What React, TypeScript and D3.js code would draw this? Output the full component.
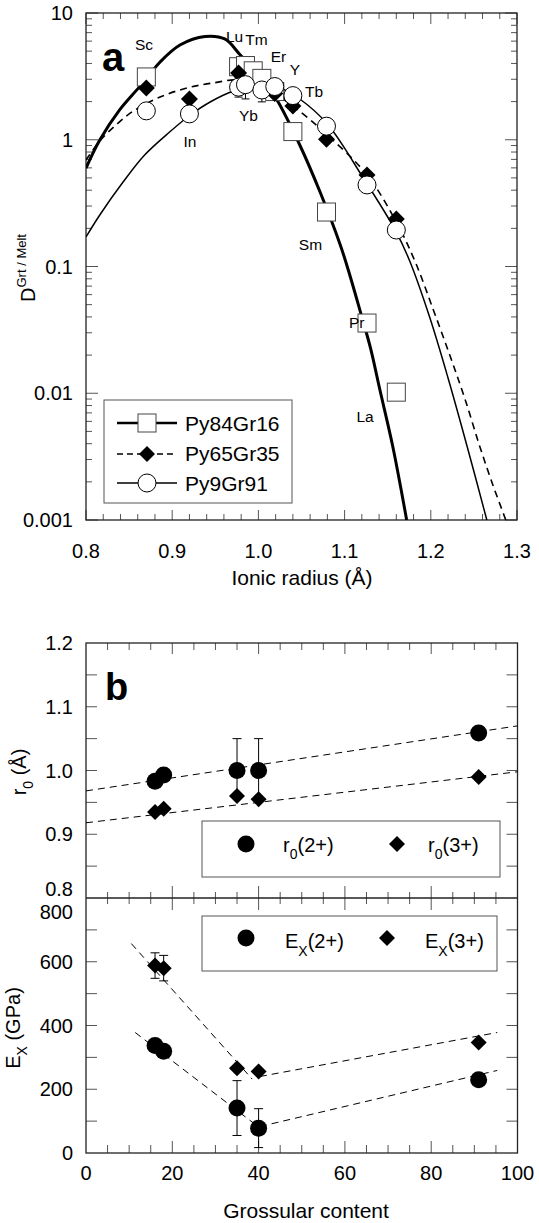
import React from "react";
import * as d3 from "d3";

// ---------------- Panel a data ----------------
const radiusTicks = [0.8, 0.9, 1.0, 1.1, 1.2, 1.3];
const radiusTickLabels = ["0.8", "0.9", "1.0", "1.1", "1.2", "1.3"];
const dTicks = [0.001, 0.01, 0.1, 1, 10];
const dTickLabels = ["0.001", "0.01", "0.1", "1", "10"];

const elements = ["Sc", "In", "Lu", "Yb", "Tm", "Er", "Y", "Tb", "Sm", "Pr", "La"];
const ionicRadius = [0.87, 0.92, 0.977, 0.985, 0.994, 1.004, 1.019, 1.04, 1.079, 1.126, 1.16];
const dPy84Gr16 = [3.13, null, 3.77, 3.85, 3.5, 3.05, 2.4, 1.16, 0.269, 0.0358, 0.0102];
const dPy65Gr35 = [2.56, 2.1, 3.36, null, null, null, 2.32, 1.85, 1.01, 0.527, 0.237];
const dPy9Gr91 = [1.69, 1.6, 2.6, 2.72, null, 2.47, 2.63, 2.23, 1.28, 0.44, 0.194];
const dPy9Gr91Low = [null, null, 2.17, 2.1, null, 1.99, null, null, null, null, null];

const fitPy84Gr16: [number, number][] = [
  [0.8, 0.598], [0.816, 0.995], [0.839, 1.72], [0.863, 2.66], [0.886, 4.11], [0.909, 5.59],
  [0.938, 6.53], [0.961, 6.24], [0.979, 4.67], [1.002, 3.19], [1.0216, 2.06], [1.048, 0.909],
  [1.072, 0.38], [1.095, 0.148], [1.106, 0.0857], [1.118, 0.0446], [1.13, 0.0228],
  [1.141, 0.0106], [1.156, 0.00377], [1.172, 0.001],
];
const fitPy65Gr35: [number, number][] = [
  [0.8, 0.692], [0.816, 0.977], [0.836, 1.331], [0.855, 1.686], [0.886, 2.174], [0.917, 2.56],
  [0.947, 2.804], [0.979, 2.96], [1.008, 2.56], [1.04, 1.846], [1.08, 1.09], [1.126, 0.527],
  [1.16, 0.2245], [1.182, 0.1085], [1.203, 0.0454], [1.222, 0.02], [1.24, 0.00885],
  [1.257, 0.00377], [1.272, 0.00189], [1.287, 0.001],
];
const fitPy9Gr91: [number, number][] = [
  [0.8, 0.171], [0.816, 0.255], [0.843, 0.464], [0.868, 0.758], [0.897, 1.151], [0.921, 1.568],
  [0.944, 1.986], [0.971, 2.425], [1.0, 2.704], [1.025, 2.561], [1.048, 2.097], [1.08, 1.331],
  [1.121, 0.508], [1.16, 0.187], [1.176, 0.1085], [1.199, 0.0392], [1.22, 0.0132],
  [1.242, 0.00384], [1.265, 0.001],
];

const labelText = ["Sc", "Lu", "Tm", "Er", "Y", "Tb", "Yb", "In", "Sm", "Pr", "La"];
const labelRadius = [0.8673, 0.9723, 0.9978, 1.0233, 1.0425, 1.0645, 0.9885, 0.9206, 1.0604, 1.1141, 1.1237];
const labelD = [5.1, 5.9, 5.6, 4.1, 3.24, 2.17, 1.406, 0.877, 0.135, 0.0327, 0.00593];

const seriesNames = ["Py84Gr16", "Py65Gr35", "Py9Gr91"];

// ---------------- Panel b data ----------------
const grossTicks = [0, 20, 40, 60, 80, 100];
const r0Ticks = [1.2, 1.1, 1.0, 0.9];
const exTicks = [0, 200, 400, 600];
const grossular = [16, 18, 35, 40, 91];
const r0TwoPlus = [0.983, 0.993, 1.0, 1.0, 1.059];
const r0TwoPlusErr = [0, 0, 0.05, 0.05, 0];
const r0ThreePlus = [0.935, 0.94, 0.96, 0.955, 0.99];
const exTwoPlus = [337, 319, 141, 78, 230];
const exTwoPlusErr = [0, 0, 86, 61, 0];
const exThreePlus = [588, 580, 266, 256, 347];
const exThreePlusErr = [40, 40, 0, 0, 0];

const r0FitTwo: [number, number][] = [[0, 0.968], [100, 1.07]];
const r0FitThree: [number, number][] = [[0, 0.918], [100, 0.998]];
const exFits: [number, number][][] = [
  [[10.5, 657], [38.5, 232]],
  [[40.3, 240], [95.3, 378]],
  [[11.4, 378], [38.7, 95]],
  [[40.3, 83], [95.3, 259]],
];

const FONT = "'Liberation Sans', Arial, Helvetica, sans-serif";
const TICK = "#555";

const diamond = (x: number, y: number, h: number) =>
  `M${x},${y - h}L${x + h},${y}L${x},${y + h}L${x - h},${y}Z`;

export default function App() {
  // scales panel a
  const xA = d3.scaleLinear().domain([0.8, 1.3]).range([86, 517]);
  const yA = d3.scaleLog().domain([0.001, 10]).range([520, 13]);
  // scales panel b
  const xB = d3.scaleLinear().domain([0, 100]).range([86, 517.5]);
  const yR = d3.scaleLinear().domain([0.8, 1.2]).range([898, 643]);
  const yE = d3.scaleLinear().domain([0, 800]).range([1153, 898]);

  const lineA = d3
    .line<[number, number]>()
    .x((d) => xA(d[0]))
    .y((d) => yA(d[1]))
    .curve(d3.curveCatmullRom.alpha(0.5));

  // ticks panel a
  const xMinorA = d3.range(0, 26).map((i) => ({ v: 0.8 + i * 0.02, major: i % 5 === 0 }));
  const yMinorA: { v: number; major: boolean }[] = [];
  for (let e = -3; e <= 0; e++) for (let m = 1; m <= 9; m++) yMinorA.push({ v: m * Math.pow(10, e), major: m === 1 });
  yMinorA.push({ v: 10, major: true });

  const xMinorB = d3.range(1, 20).map((i) => ({ v: i * 5, major: i % 4 === 0 }));
  const r0Minor = d3.range(1, 8).map((i) => 0.8 + i * 0.05);
  const exMinor = d3.range(1, 8).map((i) => i * 100);

  const idx = d3.range(elements.length);

  return (
    <svg
      width={539}
      height={1223}
      style={{ position: "absolute", left: 0, top: 0, background: "#fff" }}
      fontFamily={FONT}
    >
      <defs>
        <clipPath id="clipA">
          <rect x={86} y={13} width={431} height={507} />
        </clipPath>
      </defs>
      <rect x={0} y={0} width={539} height={1223} fill="#fff" />

      {/* ===================== Panel a ===================== */}
      <g>
        {/* ticks */}
        {xMinorA.map((t, i) => (
          <g key={"xa" + i} stroke={TICK} strokeWidth={1}>
            <line x1={xA(t.v)} x2={xA(t.v)} y1={520} y2={520 - (t.major ? 10 : 6)} />
            <line x1={xA(t.v)} x2={xA(t.v)} y1={13} y2={13 + (t.major ? 11 : 6)} />
          </g>
        ))}
        {yMinorA.map((t, i) => (
          <g key={"ya" + i} stroke={TICK} strokeWidth={1}>
            <line x1={86} x2={86 + (t.major ? 12 : 6)} y1={yA(t.v)} y2={yA(t.v)} />
            <line x1={517} x2={517 - (t.major ? 12 : 6)} y1={yA(t.v)} y2={yA(t.v)} />
          </g>
        ))}
        <rect x={86} y={13} width={431} height={507} fill="none" stroke="#222" strokeWidth={1.3} />

        {/* tick labels */}
        {dTicks.map((v, i) => (
          <text key={"yl" + i} x={73} y={yA(v)} dy="0.36em" textAnchor="end" fontSize={20}>
            {dTickLabels[i]}
          </text>
        ))}
        {radiusTicks.map((v, i) => (
          <text key={"xl" + i} x={xA(v)} y={558} textAnchor="middle" fontSize={20}>
            {radiusTickLabels[i]}
          </text>
        ))}
        <text x={302} y={585} textAnchor="middle" fontSize={21}>
          Ionic radius (Å)
        </text>
        <text transform="translate(35,268) rotate(-90)" textAnchor="middle" fontSize={20}>
          D<tspan fontSize={13} dy={-9}>Grt / Melt</tspan>
        </text>
        <text x={102} y={71} fontSize={40} fontWeight="bold">
          a
        </text>

        {/* fit curves */}
        <g clipPath="url(#clipA)" fill="none">
          <path d={lineA(fitPy84Gr16) || ""} stroke="#000" strokeWidth={3} />
          <path d={lineA(fitPy65Gr35) || ""} stroke="#000" strokeWidth={1.6} strokeDasharray="7,5" />
          <path d={lineA(fitPy9Gr91) || ""} stroke="#000" strokeWidth={1.5} />
        </g>

        {/* error bars */}
        {idx.map((i) => {
          const lo = dPy9Gr91Low[i];
          const c = dPy9Gr91[i];
          if (lo == null || c == null) return null;
          const hi = (c * c) / lo;
          const x = xA(ionicRadius[i]);
          return (
            <g key={"eb" + i} stroke="#000" strokeWidth={1}>
              <line x1={x} x2={x} y1={yA(lo)} y2={yA(hi)} />
              <line x1={x - 4} x2={x + 4} y1={yA(lo)} y2={yA(lo)} />
              <line x1={x - 4} x2={x + 4} y1={yA(hi)} y2={yA(hi)} />
            </g>
          );
        })}

        {/* markers */}
        {idx.map((i) =>
          dPy84Gr16[i] == null ? null : (
            <rect
              key={"sq" + i}
              x={xA(ionicRadius[i]) - 9}
              y={yA(dPy84Gr16[i] as number) - 9}
              width={18}
              height={18}
              fill="#fff"
              stroke="#444"
              strokeWidth={1}
            />
          )
        )}
        {idx.map((i) =>
          dPy65Gr35[i] == null ? null : (
            <path key={"dm" + i} d={diamond(xA(ionicRadius[i]), yA(dPy65Gr35[i] as number), 8.5)} fill="#000" />
          )
        )}
        {idx.map((i) =>
          dPy9Gr91[i] == null ? null : (
            <circle
              key={"ci" + i}
              cx={xA(ionicRadius[i])}
              cy={yA(dPy9Gr91[i] as number)}
              r={9}
              fill="#fff"
              stroke="#000"
              strokeWidth={1}
            />
          )
        )}

        {/* point labels */}
        {labelText.map((t, i) => (
          <text key={"pl" + i} x={xA(labelRadius[i])} y={yA(labelD[i])} textAnchor="middle" fontSize={15.5}>
            {t}
          </text>
        ))}

        {/* legend a */}
        <rect x={104} y={400} width={188} height={103} fill="#fff" stroke="#555" strokeWidth={1} />
        <line x1={117} x2={177} y1={423} y2={423} stroke="#000" strokeWidth={2.5} />
        <rect x={138} y={414} width={18} height={18} fill="#fff" stroke="#444" strokeWidth={1} />
        <line x1={117} x2={177} y1={454} y2={454} stroke="#000" strokeWidth={1.3} strokeDasharray="6,4" />
        <path d={diamond(147, 454, 8)} fill="#000" />
        <line x1={117} x2={177} y1={483} y2={483} stroke="#000" strokeWidth={1.3} />
        <circle cx={147} cy={483} r={9} fill="#fff" stroke="#000" strokeWidth={1} />
        {seriesNames.map((s, i) => (
          <text key={"lg" + i} x={185} y={431 + i * 30} fontSize={21}>
            {s}
          </text>
        ))}
      </g>

      {/* ===================== Panel b ===================== */}
      <g>
        {/* x ticks */}
        {xMinorB.map((t, i) => {
          const x = xB(t.v);
          return (
            <g key={"xb" + i} stroke={TICK} strokeWidth={1}>
              <line x1={x} x2={x} y1={643} y2={643 + (t.major ? 11 : 7)} />
              <line x1={x} x2={x} y1={898 - (t.major ? 12 : 6)} y2={898 + (t.major ? 12 : 6)} />
              <line x1={x} x2={x} y1={1153} y2={1153 - (t.major ? 12 : 8)} />
            </g>
          );
        })}
        {r0Minor.map((v, i) => (
          <g key={"rt" + i} stroke={TICK} strokeWidth={1}>
            <line x1={86} x2={97} y1={yR(v)} y2={yR(v)} />
            <line x1={517.5} x2={506.5} y1={yR(v)} y2={yR(v)} />
          </g>
        ))}
        {exMinor.map((v, i) => (
          <g key={"et" + i} stroke={TICK} strokeWidth={1}>
            <line x1={86} x2={97} y1={yE(v)} y2={yE(v)} />
            <line x1={517.5} x2={506.5} y1={yE(v)} y2={yE(v)} />
          </g>
        ))}
        <rect x={86} y={643} width={431.5} height={510} fill="none" stroke="#222" strokeWidth={1.3} />
        <line x1={86} x2={517.5} y1={898} y2={898} stroke="#222" strokeWidth={1.3} />

        {/* labels */}
        {r0Ticks.map((v, i) => (
          <text key={"rl" + i} x={73} y={yR(v)} dy="0.36em" textAnchor="end" fontSize={20}>
            {v.toFixed(1)}
          </text>
        ))}
        <text x={73} y={889} dy="0.36em" textAnchor="end" fontSize={20}>
          0.8
        </text>
        {exTicks.map((v, i) => (
          <text key={"el" + i} x={73} y={yE(v)} dy="0.36em" textAnchor="end" fontSize={20}>
            {v}
          </text>
        ))}
        <text x={73} y={912} dy="0.36em" textAnchor="end" fontSize={20}>
          800
        </text>
        {grossTicks.map((v, i) => (
          <text key={"gl" + i} x={xB(v)} y={1180} textAnchor="middle" fontSize={20}>
            {v}
          </text>
        ))}
        <text x={306} y={1218} textAnchor="middle" fontSize={21}>
          Grossular content
        </text>
        <text transform="translate(26,772) rotate(-90)" textAnchor="middle" fontSize={20}>
          r<tspan fontSize={14} dy={7}>0</tspan>
          <tspan dy={-7}> (Å)</tspan>
        </text>
        <text transform="translate(20,1028) rotate(-90)" textAnchor="middle" fontSize={20}>
          E<tspan fontSize={14} dy={7}>X</tspan>
          <tspan dy={-7}> (GPa)</tspan>
        </text>
        <text x={105} y={700} fontSize={38} fontWeight="bold">
          b
        </text>

        {/* fit lines */}
        <g stroke="#000" strokeWidth={1} strokeDasharray="7,5" fill="none">
          {[r0FitTwo, r0FitThree].map((f, i) => (
            <line key={"rf" + i} x1={xB(f[0][0])} y1={yR(f[0][1])} x2={xB(f[1][0])} y2={yR(f[1][1])} />
          ))}
          {exFits.map((f, i) => (
            <line key={"ef" + i} x1={xB(f[0][0])} y1={yE(f[0][1])} x2={xB(f[1][0])} y2={yE(f[1][1])} />
          ))}
        </g>

        {/* error bars */}
        <g stroke="#000" strokeWidth={1}>
          {grossular.map((g, i) =>
            r0TwoPlusErr[i] ? (
              <g key={"re" + i}>
                <line x1={xB(g)} x2={xB(g)} y1={yR(r0TwoPlus[i] - r0TwoPlusErr[i])} y2={yR(r0TwoPlus[i] + r0TwoPlusErr[i])} />
                <line x1={xB(g) - 4.5} x2={xB(g) + 4.5} y1={yR(r0TwoPlus[i] + r0TwoPlusErr[i])} y2={yR(r0TwoPlus[i] + r0TwoPlusErr[i])} />
              </g>
            ) : null
          )}
          {grossular.map((g, i) =>
            exTwoPlusErr[i] ? (
              <g key={"e2" + i}>
                <line x1={xB(g)} x2={xB(g)} y1={yE(exTwoPlus[i] - exTwoPlusErr[i])} y2={yE(exTwoPlus[i] + exTwoPlusErr[i])} />
                <line x1={xB(g) - 4.5} x2={xB(g) + 4.5} y1={yE(exTwoPlus[i] + exTwoPlusErr[i])} y2={yE(exTwoPlus[i] + exTwoPlusErr[i])} />
                <line x1={xB(g) - 4.5} x2={xB(g) + 4.5} y1={yE(exTwoPlus[i] - exTwoPlusErr[i])} y2={yE(exTwoPlus[i] - exTwoPlusErr[i])} />
              </g>
            ) : null
          )}
          {grossular.map((g, i) =>
            exThreePlusErr[i] ? (
              <g key={"e3" + i}>
                <line x1={xB(g)} x2={xB(g)} y1={yE(exThreePlus[i] - exThreePlusErr[i])} y2={yE(exThreePlus[i] + exThreePlusErr[i])} />
                <line x1={xB(g) - 4.5} x2={xB(g) + 4.5} y1={yE(exThreePlus[i] + exThreePlusErr[i])} y2={yE(exThreePlus[i] + exThreePlusErr[i])} />
                <line x1={xB(g) - 4.5} x2={xB(g) + 4.5} y1={yE(exThreePlus[i] - exThreePlusErr[i])} y2={yE(exThreePlus[i] - exThreePlusErr[i])} />
              </g>
            ) : null
          )}
        </g>

        {/* markers */}
        {grossular.map((g, i) => (
          <g key={"bm" + i}>
            <path d={diamond(xB(g), yR(r0ThreePlus[i]), 8)} fill="#000" />
            <circle cx={xB(g)} cy={yR(r0TwoPlus[i])} r={8.5} fill="#000" />
            <path d={diamond(xB(g), yE(exThreePlus[i]), 8)} fill="#000" />
            <circle cx={xB(g)} cy={yE(exTwoPlus[i])} r={8.5} fill="#000" />
          </g>
        ))}

        {/* legend r0 */}
        <rect x={202} y={821} width={298} height={56} fill="#fff" stroke="#555" strokeWidth={1} />
        <circle cx={246} cy={844} r={8.5} fill="#000" />
        <text x={283} y={852} fontSize={20}>
          r<tspan fontSize={14} dy={7}>0</tspan>
          <tspan dy={-7}>(2+)</tspan>
        </text>
        <path d={diamond(397, 844, 8)} fill="#000" />
        <text x={428} y={852} fontSize={20}>
          r<tspan fontSize={14} dy={7}>0</tspan>
          <tspan dy={-7}>(3+)</tspan>
        </text>

        {/* legend Ex */}
        <rect x={202} y={916} width={295} height={55} fill="#fff" stroke="#555" strokeWidth={1} />
        <circle cx={246} cy={938} r={8.5} fill="#000" />
        <text x={285} y={948} fontSize={20}>
          E<tspan fontSize={14} dy={8}>X</tspan>
          <tspan dy={-8}>(2+)</tspan>
        </text>
        <path d={diamond(387, 938, 8)} fill="#000" />
        <text x={425} y={948} fontSize={20}>
          E<tspan fontSize={14} dy={8}>X</tspan>
          <tspan dy={-8}>(3+)</tspan>
        </text>
      </g>
    </svg>
  );
}
